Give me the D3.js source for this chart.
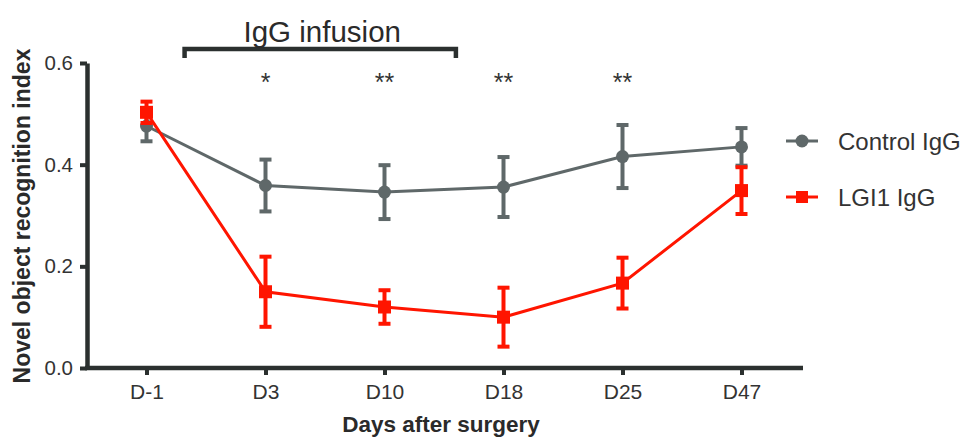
<!DOCTYPE html>
<html>
<head>
<meta charset="utf-8">
<script src="https://cdn.jsdelivr.net/npm/d3@7"></script>
<style>
  body { margin: 0; background: #fff; }
  svg { font-family: "Liberation Sans", Arial, sans-serif; }
</style>
</head>
<body>
<svg id="chart"></svg>
<script>
let width = 972, height = 445;

// chart data
const days = ["D-1", "D3", "D10", "D18", "D25", "D47"];
const controlMean = [0.476, 0.359, 0.346, 0.356, 0.416, 0.435];
const controlSem  = [0.030, 0.051, 0.053, 0.059, 0.062, 0.037];
const lgi1Mean    = [0.503, 0.150, 0.120, 0.100, 0.167, 0.349];
const lgi1Sem     = [0.021, 0.069, 0.033, 0.058, 0.050, 0.046];
const yTicks = [0, 0.2, 0.4, 0.6];
const stars = [
  { day: "D3", text: "*" },
  { day: "D10", text: "**" },
  { day: "D18", text: "**" },
  { day: "D25", text: "**" }
];
const seriesNames = ["Control IgG", "LGI1 IgG"];

const grey = "#5f6869", red = "#ff1500", ink = "#2b302f";

const svg = d3.select("#chart")
  .attr("width", width)
  .attr("height", height);

const x = d3.scalePoint().domain(days).range([87, 801]).padding(0.5);
const y = d3.scaleLinear().domain([0, 0.6]).range([368, 63]);

// y axis
const yAxis = svg.append("g")
  .attr("transform", "translate(87,0)")
  .call(d3.axisLeft(y).tickValues(yTicks).tickFormat(d3.format(".1f"))
    .tickSize(7).tickPadding(7).tickSizeOuter(0));
yAxis.select(".domain").attr("stroke", ink).attr("stroke-width", 4.5);
yAxis.selectAll(".tick line").attr("stroke", ink).attr("stroke-width", 4);
yAxis.selectAll(".tick text").attr("fill", "#333").attr("font-size", 20.5);

// x axis
const xAxis = svg.append("g")
  .attr("transform", "translate(0,368)")
  .call(d3.axisBottom(x).tickSize(7).tickPadding(9).tickSizeOuter(0));
xAxis.select(".domain").attr("stroke", ink).attr("stroke-width", 4.5)
  .attr("d", "M85,0H803");
xAxis.selectAll(".tick line").attr("stroke", ink).attr("stroke-width", 4);
xAxis.selectAll(".tick text").attr("fill", "#333").attr("font-size", 21);

// axis titles
svg.append("text")
  .attr("x", 441).attr("y", 432)
  .attr("text-anchor", "middle")
  .attr("font-size", 22.5).attr("font-weight", "bold").attr("fill", "#2a2a2a")
  .text("Days after surgery");

svg.append("text")
  .attr("transform", "translate(30,216) rotate(-90)")
  .attr("text-anchor", "middle")
  .attr("font-size", 23).attr("font-weight", "bold").attr("fill", "#2a2a2a")
  .text("Novel object recognition index");

// infusion bracket
const step = x.step();
const bx0 = x("D-1") + 0.32 * step, bx1 = x("D10") + 0.6 * step;
svg.append("path")
  .attr("d", `M${bx0},58V49H${bx1}V58`)
  .attr("fill", "none").attr("stroke", ink).attr("stroke-width", 4.5);
svg.append("text")
  .attr("x", (bx0 + bx1) / 2 + 2).attr("y", 42)
  .attr("text-anchor", "middle")
  .attr("font-size", 29.5).attr("fill", "#2a2a2a")
  .text("IgG infusion");

// significance stars
svg.append("g").selectAll("text")
  .data(stars).join("text")
  .attr("x", d => x(d.day)).attr("y", 91)
  .attr("text-anchor", "middle")
  .attr("font-size", 25).attr("fill", "#333")
  .text(d => d.text);

function drawSeries(means, sems, color, shape) {
  const pts = days.map((d, i) => ({ day: d, m: means[i], s: sems[i] }));
  const g = svg.append("g");
  g.append("path")
    .datum(pts)
    .attr("fill", "none").attr("stroke", color).attr("stroke-width", 3)
    .attr("d", d3.line().x(d => x(d.day)).y(d => y(d.m)));

  const eb = g.selectAll(".eb").data(pts).join("g").attr("class", "eb");
  eb.append("line")
    .attr("x1", d => x(d.day)).attr("x2", d => x(d.day))
    .attr("y1", d => y(d.m + d.s)).attr("y2", d => y(d.m - d.s))
    .attr("stroke", color).attr("stroke-width", 4);
  [1, -1].forEach(sign => {
    eb.append("line")
      .attr("x1", d => x(d.day) - 6).attr("x2", d => x(d.day) + 6)
      .attr("y1", d => y(d.m + sign * d.s)).attr("y2", d => y(d.m + sign * d.s))
      .attr("stroke", color).attr("stroke-width", 4);
  });

  if (shape === "circle") {
    g.selectAll(".pt").data(pts).join("circle")
      .attr("cx", d => x(d.day)).attr("cy", d => y(d.m)).attr("r", 6.5)
      .attr("fill", color);
  } else {
    g.selectAll(".pt").data(pts).join("rect")
      .attr("x", d => x(d.day) - 6.5).attr("y", d => y(d.m) - 6.5)
      .attr("width", 13).attr("height", 13)
      .attr("fill", color);
  }
}

drawSeries(controlMean, controlSem, grey, "circle");
drawSeries(lgi1Mean, lgi1Sem, red, "square");

// legend
const legend = svg.append("g");
const legendRows = [
  { name: seriesNames[0], color: grey, shape: "circle", y: 141 },
  { name: seriesNames[1], color: red, shape: "square", y: 197 }
];
legendRows.forEach(r => {
  legend.append("line")
    .attr("x1", 786).attr("x2", 818).attr("y1", r.y).attr("y2", r.y)
    .attr("stroke", r.color).attr("stroke-width", 3);
  if (r.shape === "circle") {
    legend.append("circle").attr("cx", 802).attr("cy", r.y).attr("r", 6.5).attr("fill", r.color);
  } else {
    legend.append("rect").attr("x", 796).attr("y", r.y - 6).attr("width", 12).attr("height", 12).attr("fill", r.color);
  }
  legend.append("text")
    .attr("x", 838).attr("y", r.y + 8.5)
    .attr("font-size", 24).attr("fill", "#333")
    .text(r.name);
});
</script>
</body>
</html>
